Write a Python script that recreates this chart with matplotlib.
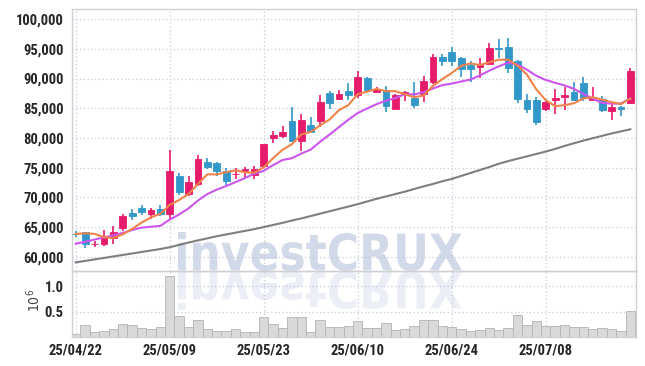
# -*- coding: utf-8 -*-
import numpy as np
import matplotlib
matplotlib.use('Agg')
import matplotlib.pyplot as plt
from matplotlib.textpath import TextPath
from matplotlib.patches import PathPatch
from matplotlib.font_manager import FontProperties
from matplotlib.transforms import Affine2D

#-data
dates = ['25/04/22', '25/04/23', '25/04/24', '25/04/25', '25/04/28', '25/04/29', '25/04/30', '25/05/02',
         '25/05/07', '25/05/08', '25/05/09', '25/05/12', '25/05/13', '25/05/14', '25/05/15', '25/05/16',
         '25/05/19', '25/05/20', '25/05/21', '25/05/22', '25/05/23', '25/05/26', '25/05/27', '25/05/28',
         '25/05/29', '25/05/30', '25/06/02', '25/06/04', '25/06/05', '25/06/09', '25/06/10', '25/06/11',
         '25/06/12', '25/06/13', '25/06/16', '25/06/17', '25/06/18', '25/06/19', '25/06/20', '25/06/23',
         '25/06/24', '25/06/25', '25/06/26', '25/06/27', '25/06/30', '25/07/01', '25/07/02', '25/07/03',
         '25/07/04', '25/07/07', '25/07/08', '25/07/09', '25/07/10', '25/07/11', '25/07/14', '25/07/15',
         '25/07/16', '25/07/17', '25/07/18', '25/07/21']

opens = [63900, 64100, 62100, 62200, 63150, 64850, 67300, 68250, 67250, 68050,
         67150, 73550, 70500, 72250, 75950, 75700, 74350, 73900, 74450, 73800,
         75200, 80050, 80300, 82800, 79500, 82100, 82850, 87550, 86600, 87950,
         87250, 90150, 87800, 88050, 84850, 87350, 86750, 87350, 89350, 93550,
         94400, 93450, 92350, 91900, 92450, 95100, 95350, 93000, 86400, 86400,
         84800, 86300, 86950, 87750, 89300, 86300, 86500, 84600, 85250, 85950]
highs = [64400, 64200, 62700, 64500, 65100, 67250, 68100, 68700, 68250, 68650,
         78000, 74100, 73650, 77100, 76700, 76000, 74950, 75000, 75150, 75300,
         79000, 81100, 82050, 85250, 84100, 83450, 87300, 87900, 88000, 89200,
         91300, 90200, 88500, 88800, 87350, 87850, 89400, 90450, 94150, 94050,
         95350, 93600, 93000, 93450, 96000, 96700, 96850, 93150, 87350, 86950,
         86400, 88250, 88650, 89400, 90300, 88600, 87100, 85850, 85450, 91750]
lows = [63400, 61400, 61700, 61800, 62100, 64400, 66250, 66950, 66300, 66900,
        66400, 70400, 70250, 71950, 74800, 73550, 72050, 73050, 73300, 73150,
        75000, 79200, 80050, 79400, 77750, 80900, 81850, 84800, 86450, 86450,
        86700, 88050, 87700, 84400, 84850, 86250, 85000, 86000, 89100, 92050,
        92050, 90200, 89400, 90100, 92450, 93450, 90900, 85850, 84150, 82250,
        84550, 84000, 84700, 86300, 86250, 86250, 84400, 83000, 83750, 85650]
closes = [63800, 62200, 62200, 63400, 64200, 66850, 66800, 67450, 67850, 67200,
          74400, 70850, 72500, 76450, 75150, 74350, 72800, 74000, 74800, 74750,
          78900, 80550, 81050, 79500, 82950, 81050, 86050, 85950, 87400, 87200,
          90300, 88100, 88250, 85450, 87250, 87750, 85550, 89600, 93700, 92900,
          92900, 91650, 91550, 92350, 95200, 95050, 91750, 86500, 84800, 82700,
          86000, 86750, 87300, 86450, 86800, 86900, 84750, 85200, 84900, 91300]

#-moving averages as drawn (5, 10 and 60 day)
ma5 = [63850, 63950, 63850, 63300, 63160, 63770, 64690, 65740, 66630, 67230,
       68740, 69550, 70560, 72280, 73870, 73860, 74250, 74550, 74220, 74140,
       75050, 76600, 78010, 78950, 80590, 81020, 82120, 83100, 84680, 85530,
       87380, 87790, 88250, 87860, 87870, 87360, 86850, 87120, 88770, 89900,
       90930, 92150, 92540, 92270, 92730, 93160, 93180, 92170, 90660, 88160,
       86350, 85350, 85510, 85840, 86660, 86840, 86440, 86020, 85710, 86610]
ma10 = [62200, 62500, 62900, 63250, 63600, 64000, 64500, 64900, 65050, 65200,
        66260, 67120, 68150, 69460, 70550, 71300, 71900, 72560, 73250, 74000,
        74460, 75430, 76280, 76590, 77370, 78040, 79360, 80560, 81820, 83060,
        84200, 84960, 85680, 86270, 86700, 87370, 87320, 87690, 88320, 88890,
        89150, 89500, 89830, 90520, 91320, 92050, 92670, 92360, 91470, 90450,
        89760, 89270, 88840, 88250, 87410, 86600, 85900, 85770, 85780, 86640]
ma60 = [59050, 59300, 59550, 59800, 60050, 60300, 60550, 60800, 61050, 61300,
        61600, 62000, 62400, 62750, 63100, 63450, 63750, 64050, 64350, 64650,
        65000, 65350, 65700, 66100, 66450, 66850, 67250, 67650, 68050, 68450,
        68850, 69300, 69750, 70150, 70550, 70950, 71400, 71850, 72250, 72700,
        73100, 73600, 74100, 74600, 75100, 75650, 76100, 76500, 76900, 77300,
        77700, 78150, 78650, 79100, 79550, 79950, 80350, 80750, 81100, 81450]

#-volume in millions of shares
volume = [0.06, 0.23, 0.10, 0.12, 0.16, 0.26, 0.23, 0.17, 0.15, 0.20,
          1.20, 0.41, 0.20, 0.34, 0.15, 0.12, 0.12, 0.15, 0.10, 0.10,
          0.39, 0.25, 0.17, 0.39, 0.39, 0.10, 0.34, 0.19, 0.19, 0.22,
          0.31, 0.18, 0.18, 0.27, 0.14, 0.15, 0.22, 0.33, 0.33, 0.21,
          0.20, 0.15, 0.11, 0.13, 0.17, 0.14, 0.17, 0.43, 0.23, 0.31,
          0.22, 0.21, 0.23, 0.20, 0.20, 0.16, 0.17, 0.15, 0.12, 0.51]

yticks = [60000, 65000, 70000, 75000, 80000, 85000, 90000, 95000, 100000]
vticks = [0.5, 1.0]

#-styles
up_col = '#e61b6c'
down_col = '#3297c9'
grid_col = '#c6c9d9'
spine_col = '#cfcfd4'
txt_col = '#262626'
plt.rcParams['font.family'] = ['Roboto Condensed', 'Liberation Sans Narrow', 'DejaVu Sans']
plt.rcParams['font.stretch'] = 'condensed'

W, H = 645, 366
fig = plt.figure(figsize=(W / 100., H / 100.), dpi=100)
fig.patch.set_facecolor('white')
ax = fig.add_axes([72 / W, 1 - 271 / H, 564 / W, 262 / H])
axv = fig.add_axes([72 / W, 1 - 337 / H, 564 / W, 66 / H], sharex=ax)
for a in (ax, axv):
    a.set_facecolor('none')
    for s in a.spines.values():
        s.set_color(spine_col)
        s.set_linewidth(1.0)

#-watermark with reflection, sits behind both panels (pixel coords from top)
def watermark(x0, x1, base, top, color):
    tp = TextPath((0, 0), 'investCRUX', size=50, prop=FontProperties(family='DejaVu Sans', weight='bold'))
    bb = tp.get_extents()
    sx = (x1 - x0) / bb.width
    sy = (base - top) / bb.height   # negative gives the mirrored copy
    tr = Affine2D().translate(-bb.x0, -bb.y0).scale(sx, sy).translate(x0, H - base).scale(1. / W, 1. / H)
    p = PathPatch(tr.transform_path(tp), facecolor=color, edgecolor='none', transform=fig.transFigure, zorder=-5)
    fig.add_artist(p)

watermark(178, 462, 271, 232, '#d2d9e9')
watermark(178, 462, 271, 310, '#ebeef5')

x = np.arange(len(dates))
o = np.array(opens)
c = np.array(closes)
cols = [up_col if cc >= oo else down_col for oo, cc in zip(o, c)]
body_lo = np.minimum(o, c)
body_h = np.maximum(np.abs(c - o), 90)

ax.vlines(x, lows, highs, colors=cols, linewidth=1.2, zorder=3)
ax.bar(x, body_h, bottom=body_lo, width=0.72, color=cols, edgecolor=cols, linewidth=0.6, zorder=4)

ax.plot(x, ma60, color='#7f7f7f', lw=1.5, zorder=5)
ax.plot(x, ma10, color='#cc55ee', lw=1.5, zorder=5)
ax.plot(x, ma5, color='#f0834a', lw=1.5, zorder=6)

axv.bar(x, volume, width=1.0, color='#d9d9d9', edgecolor='#b4b4b4', linewidth=0.6, zorder=3)

#-axes, ticks, grid
ax.set_xlim(-0.4, 59.6)
ax.set_ylim(57600, 101700)
axv.set_ylim(0, 1.30)

ax.set_yticks(yticks)
ax.set_yticklabels(['{:,}'.format(v) for v in yticks])
axv.set_yticks(vticks)
axv.set_yticklabels(['{:.1f}'.format(v) for v in vticks])
tick_pos = list(range(0, len(dates), 10))
axv.set_xticks(tick_pos)
axv.set_xticklabels([dates[i] for i in tick_pos])
ax.tick_params(axis='x', labelbottom=False, length=0)
ax.tick_params(axis='y', length=0, pad=6, labelsize=10.5, labelcolor=txt_col)
axv.tick_params(axis='y', length=0, pad=6, labelsize=10.5, labelcolor=txt_col)
axv.tick_params(axis='x', length=0, pad=5, labelsize=10.5, labelcolor=txt_col)
for lab in ax.get_yticklabels() + axv.get_yticklabels() + axv.get_xticklabels():
    lab.set_fontweight('bold')

for a in (ax, axv):
    a.grid(True, which='major', color=grid_col, linestyle=(0, (1, 2)), linewidth=0.9, zorder=0)
    a.set_axisbelow(True)

fig.text(34 / W, 1 - 300 / H, r'$10^6$', rotation=90, ha='center', va='center', fontsize=10,
         color='#444444', family='DejaVu Sans')

fig.savefig('out.png', dpi=100)
